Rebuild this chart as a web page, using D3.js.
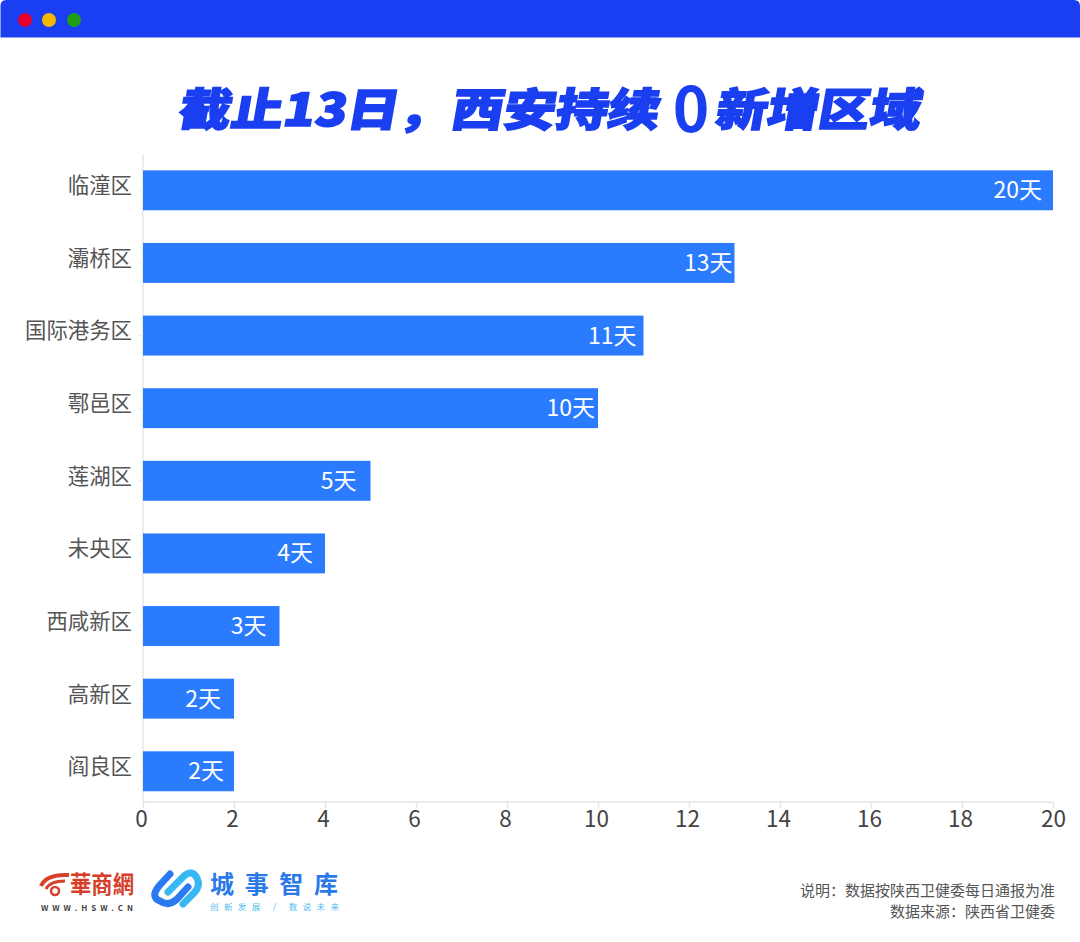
<!DOCTYPE html>
<html lang="zh-CN">
<head>
<meta charset="utf-8">
<title>截止13日，西安持续0新增区域</title>
<script src="https://cdn.jsdelivr.net/npm/d3@7"></script>
<style>
    html, body { margin: 0; padding: 0; background: #fff; }
    svg { display: block; }
    text { font-family: "Noto Sans CJK SC", "Noto Sans", sans-serif; }
</style>
</head>
<body>
<div id="chart"></div>
<script>
// data
var districts = ["临潼区", "灞桥区", "国际港务区", "鄠邑区", "莲湖区", "未央区", "西咸新区", "高新区", "阎良区"];
var days = [20, 13, 11, 10, 5, 4, 3, 2, 2];
var dayTicks = [0, 2, 4, 6, 8, 10, 12, 14, 16, 18, 20];
var dayUnit = "天";
var titleLeft = "截止13日，西安持续";
var titleZero = "0";
var titleRight = "新增区域";
var noteLines = ["说明：数据按陕西卫健委每日通报为准", "数据来源：陕西省卫健委"];

var W = 1080, H = 942;
var svg = d3.select("#chart").append("svg").attr("width", W).attr("height", H);

// window bar
svg.append("path")
    .attr("d", "M0.5,37.5V6Q0.5,0 6,0H1074Q1080,0 1080,6V37.5Z")
    .attr("fill", "#1a3ff2");
[[25, "#e8002d"], [49, "#f5b800"], [74, "#1f9e16"]].forEach(function (d) {
    svg.append("circle").attr("cx", d[0]).attr("cy", 20).attr("r", 7).attr("fill", d[1]);
});

// title, heavy slanted look comes from skew + stroke
var titleBlue = "#1a3ff0";
function titlePart(txt, x, len) {
    svg.append("text")
        .attr("transform", "translate(" + x + ",126) skewX(-10)")
        .attr("textLength", len)
        .attr("lengthAdjust", "spacingAndGlyphs")
        .attr("font-size", 45)
        .attr("font-weight", 900)
        .attr("fill", titleBlue)
        .attr("stroke", titleBlue)
        .attr("stroke-width", 1.6)
        .text(txt);
}
titlePart(titleLeft, 177, 481);
titlePart(titleRight, 714, 205);
svg.append("text")
    .attr("x", 691).attr("y", 132)
    .attr("text-anchor", "middle")
    .attr("font-size", 62)
    .attr("font-weight", 700)
    .attr("font-family", "'Noto Sans', sans-serif")
    .attr("fill", titleBlue)
    .text(titleZero);

// scales
var x = d3.scaleLinear().domain([0, 20]).range([143, 1053]);
var y = d3.scaleBand().domain(districts).range([154, 807.6]).paddingInner(0.45).paddingOuter(0.225);
var axisY = 802;

// axes
var yAxis = svg.append("g")
    .attr("transform", "translate(143,0)")
    .call(d3.axisLeft(y).tickSize(5).tickPadding(6));
yAxis.select(".domain").attr("d", "M0,155V" + axisY).attr("stroke", "#e6e6e6").attr("stroke-width", 1.5);
yAxis.selectAll(".tick line").attr("stroke", "#eeeeee");
yAxis.selectAll(".tick text")
    .attr("dy", "0.32em")
    .attr("y", -4)
    .attr("font-size", 21.4)
    .attr("font-family", null)
    .attr("fill", "#555");

var xAxis = svg.append("g")
    .attr("transform", "translate(0," + axisY + ")")
    .call(d3.axisBottom(x).tickValues(dayTicks).tickSize(6).tickPadding(3));
xAxis.select(".domain").attr("d", "M143,0H1053").attr("stroke", "#e6e6e6").attr("stroke-width", 1.5);
xAxis.selectAll(".tick line").attr("stroke", "#e6e6e6").attr("stroke-width", 1.5);
xAxis.selectAll(".tick text")
    .attr("dx", function (d) { return d === 20 ? 0 : -2; })
    .attr("font-size", 22.5)
    .attr("font-family", "'Noto Sans', sans-serif")
    .attr("fill", "#444");

// bars
var rows = districts.map(function (name, i) { return { name: name, value: days[i], i: i }; });
svg.append("g").selectAll("rect").data(rows).join("rect")
    .attr("x", x(0))
    .attr("y", function (d) { return y(d.name); })
    .attr("width", function (d) { return x(d.value) - x(0); })
    .attr("height", y.bandwidth())
    .attr("fill", "#2b7bff");

// value labels sit by hand in the original, so each has its own gap from the bar end
var labelGap = [11, 2, 7, 3, 14, 12, 13, 13, 10];
svg.append("g").selectAll("text").data(rows).join("text")
    .attr("x", function (d) { return x(d.value) - labelGap[d.i]; })
    .attr("y", function (d) { return y(d.name) + y.bandwidth() / 2 + 8; })
    .attr("text-anchor", "end")
    .attr("font-size", 23)
    .attr("fill", "#fff")
    .text(function (d) { return d.value + dayUnit; });

// 华商网 logo
var hsRed = "#d6402a";
var hs = svg.append("g").attr("fill", "none").attr("stroke", hsRed);
hs.append("path").attr("d", "M41,886Q46,874 69,875").attr("stroke-width", 4);
hs.append("path").attr("d", "M46,889Q50,881 65,881").attr("stroke-width", 3);
hs.append("circle").attr("cx", 55).attr("cy", 891).attr("r", 4).attr("stroke-width", 2.5);
svg.append("text")
    .attr("x", 70).attr("y", 893)
    .attr("font-size", 24).attr("font-weight", 700)
    .attr("textLength", 64).attr("lengthAdjust", "spacingAndGlyphs")
    .attr("fill", hsRed)
    .text("華商網");
svg.append("text")
    .attr("x", 41).attr("y", 911)
    .attr("font-size", 8).attr("font-weight", 700)
    .attr("font-family", "'DejaVu Sans', sans-serif")
    .attr("textLength", 92)
    .attr("fill", "#444")
    .text("WWW.HSW.CN");

// chain logo
var chain = svg.append("g").attr("fill", "none").attr("stroke-linecap", "round").attr("stroke-width", 7);
chain.append("path")
    .attr("d", "M170,874L159,886Q150,897 160,901Q169,907 177,899L188,887")
    .attr("stroke", "#2a79f0");
chain.append("path")
    .attr("d", "M168,892L184,876Q192,869 197,878Q201,886 194,893L183,904")
    .attr("stroke", "#38b8f2");

svg.append("text")
    .attr("x", 210).attr("y", 893)
    .attr("font-size", 24).attr("font-weight", 700)
    .attr("textLength", 128)
    .attr("fill", "#2a79e8")
    .text("城事智库");
svg.append("text")
    .attr("x", 210).attr("y", 910)
    .attr("font-size", 8.5)
    .attr("textLength", 129)
    .attr("fill", "#52bdf0")
    .text("创新发展 / 数说未来");

// notes
svg.append("g").selectAll("text").data(noteLines).join("text")
    .attr("x", 1055)
    .attr("y", function (d, i) { return 896 + i * 20.5; })
    .attr("text-anchor", "end")
    .attr("font-size", 15)
    .attr("fill", "#555")
    .text(function (d) { return d; });
</script>
</body>
</html>
